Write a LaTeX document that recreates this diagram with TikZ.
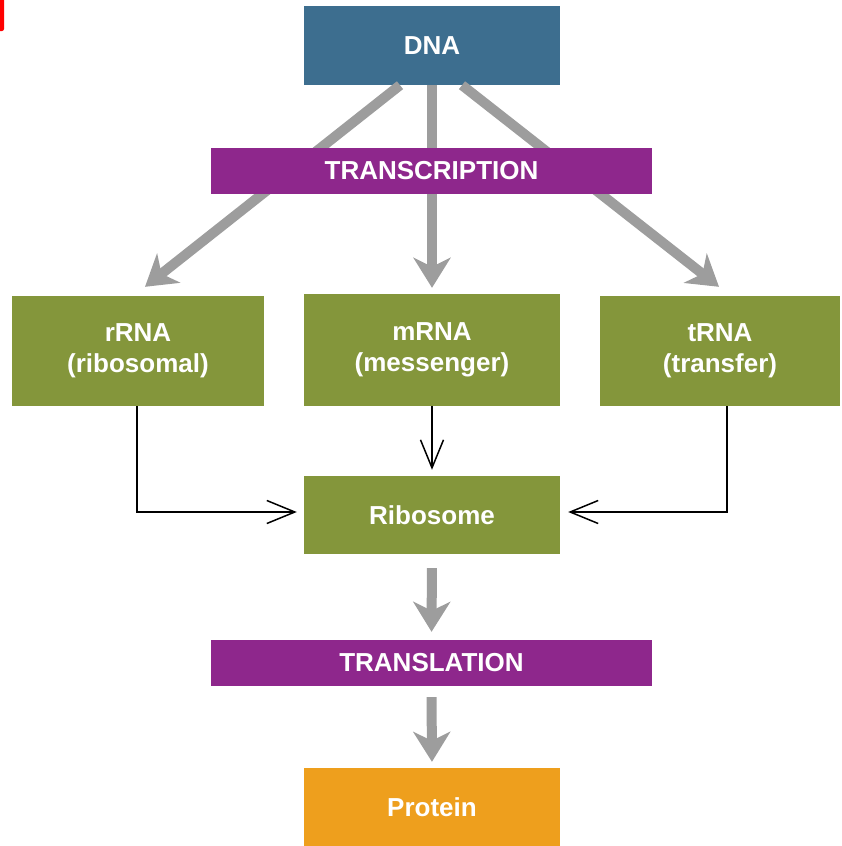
\documentclass[tikz,border=0pt]{standalone}
\usepackage{fontspec}
\setmainfont{Liberation Sans}
\usetikzlibrary{arrows.meta}

\definecolor{dnablue}{HTML}{3D6E8F}
\definecolor{procpurple}{HTML}{8E278C}
\definecolor{rnagreen}{HTML}{84963B}
\definecolor{protorange}{HTML}{EE9F1D}
\definecolor{flowgray}{HTML}{9D9D9D}
\definecolor{markred}{HTML}{FF0000}

\tikzset{
  box/.style={draw=none, inner sep=0pt, align=center, text=white,
    font=\fontsize{26}{31}\selectfont\bfseries},
  dnabox/.style={box, fill=dnablue, minimum width=256pt, minimum height=79pt},
  procbar/.style={box, fill=procpurple, minimum width=441pt, minimum height=46pt},
  rnabox/.style={box, fill=rnagreen},
  protbox/.style={box, fill=protorange, minimum width=256pt, minimum height=78pt},
  flow/.style={draw=flowgray, line width=10pt,
    -{Stealth[length=30pt, width=37pt, inset=9pt]}},
  thinflow/.style={draw=black, line width=1.5pt,
    -{Straight Barb[length=28pt, width=23pt]}},
}

\begin{document}
\begin{tikzpicture}[x=1pt, y=-1pt]
  \useasboundingbox (0,0) rectangle (841,846);

  % corner mark
  \fill[markred, rounded corners=2pt] (-6,-6) rectangle (4,31);

  % nodes
  \node[dnabox] (dna) at (432,45.5) {DNA};
  \node[rnabox, minimum width=252pt, minimum height=110pt] (rrna) at (138,351) {rRNA\\(ribosomal)};
  \node[rnabox, minimum width=256pt, minimum height=112pt] (mrna) at (432,350) {mRNA\\(messenger)};
  \node[rnabox, minimum width=240pt, minimum height=110pt] (trna) at (720,351) {tRNA\\(transfer)};
  \node[rnabox, minimum width=256pt, minimum height=78pt] (ribo) at (432,515) {Ribosome};
  \node[protbox] (prot) at (432,807) {Protein};

  % transcription arrows (pass behind the bar)
  \draw[flow] ([xshift=-32pt]dna.south) -- ([xshift=7pt, yshift=9pt]rrna.north);
  \draw[flow, shorten >=6pt] (dna.south) -- (mrna.north);
  \draw[flow] ([xshift=30pt]dna.south) -- ([xshift=-1pt, yshift=9pt]trna.north);

  \node[procbar] (transc) at (431.5,171) {TRANSCRIPTION};
  \node[procbar] (transl) at (431.5,663) {TRANSLATION};

  % translation arrows
  \draw[flow, shorten <=14pt, shorten >=8pt] (ribo.south) -- (transl.north);
  \draw[flow, shorten <=11pt, shorten >=6pt] (transl.south) -- (prot.north);

  % RNA to ribosome
  \draw[thinflow] ([xshift=-1pt]rrna.south) |- ([xshift=-7pt, yshift=3pt]ribo.west);
  \draw[thinflow, shorten >=6pt] (mrna.south) -- (ribo.north);
  \draw[thinflow] ([xshift=7pt]trna.south) |- ([xshift=8pt, yshift=3pt]ribo.east);
\end{tikzpicture}
\end{document}
